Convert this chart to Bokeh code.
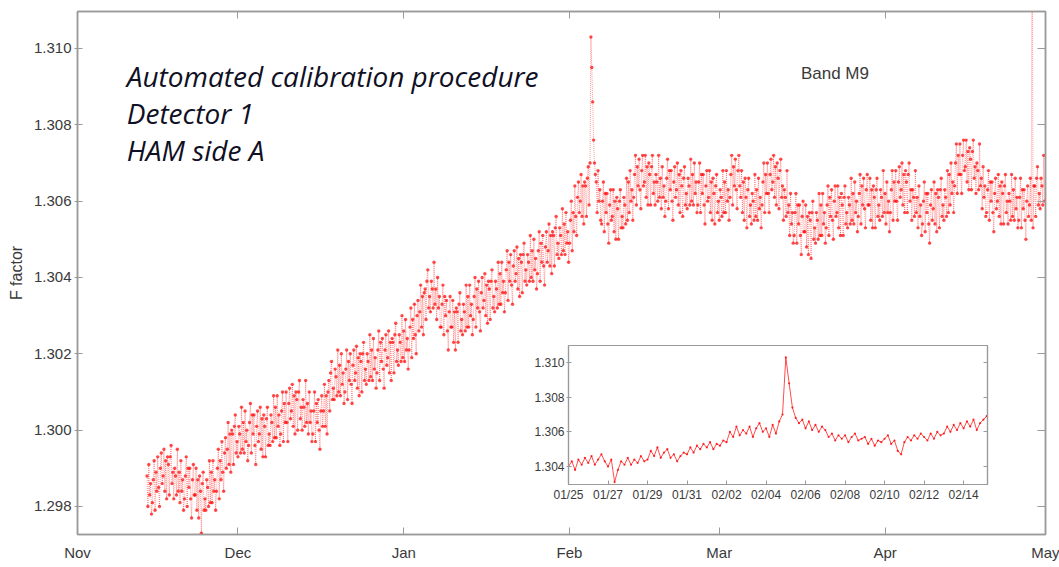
from datetime import datetime
import pandas as pd
from bokeh.plotting import figure
from bokeh.layouts import column
from bokeh.models import (Range1d, DatetimeAxis, LinearAxis, MonthsTicker, FixedTicker,
                          DatetimeTickFormatter, PrintfTickFormatter, ColumnDataSource)
from bokeh.core.properties import value
from bokeh.embed import file_html
from bokeh.resources import INLINE

# ---------------- data ----------------
main_start = "2012-11-14 00:00"
main_step_hours = 4
f_main = [
    1.2988, 1.2980, 1.2991, 1.2983, 1.2986, 1.2978,  # Nov 14
    1.2981, 1.2987, 1.2992, 1.2979, 1.2989, 1.2984,
    1.2993, 1.2985, 1.2980, 1.2990, 1.2994, 1.2986,
    1.2988, 1.2995, 1.2984, 1.2992, 1.2982, 1.2993,
    1.2991, 1.2983, 1.2993, 1.2996, 1.2986, 1.2989,
    1.2982, 1.2990, 1.2988, 1.2983, 1.2995, 1.2984,
    1.2989, 1.2981, 1.2992, 1.2984, 1.2987, 1.2979,  # Nov 20
    1.2982, 1.2988, 1.2993, 1.2980, 1.2990, 1.2985,
    1.2990, 1.2982, 1.2977, 1.2987, 1.2991, 1.2983,
    1.2983, 1.2990, 1.2979, 1.2987, 1.2977, 1.2988,
    1.2984, 1.2973, 1.2986, 1.2989, 1.2979, 1.2982,
    1.2979, 1.2987, 1.2985, 1.2980, 1.2992, 1.2981,
    1.2989, 1.2981, 1.2992, 1.2984, 1.2987, 1.2979,  # Nov 26
    1.2984, 1.2990, 1.2995, 1.2982, 1.2992, 1.2987,
    1.2997, 1.2989, 1.2984, 1.2994, 1.2998, 1.2990,
    1.2995, 1.3002, 1.2991, 1.2999, 1.2989, 1.3000,
    1.2999, 1.2991, 1.3001, 1.3004, 1.2994, 1.2997,
    1.2993, 1.3001, 1.2999, 1.2994, 1.3006, 1.2995,  # Dec 1
    1.3002, 1.2994, 1.3005, 1.2997, 1.3000, 1.2992,
    1.2996, 1.3002, 1.3007, 1.2994, 1.3004, 1.2999,
    1.3004, 1.2996, 1.2991, 1.3001, 1.3005, 1.2997,
    1.2999, 1.3006, 1.2995, 1.3003, 1.2993, 1.3004,
    1.3001, 1.2993, 1.3003, 1.3006, 1.2996, 1.2999,
    1.2996, 1.3004, 1.3002, 1.2997, 1.3009, 1.2998,  # Dec 7
    1.3006, 1.2998, 1.3009, 1.3001, 1.3004, 1.2996,
    1.2999, 1.3005, 1.3010, 1.2997, 1.3007, 1.3002,
    1.3010, 1.3002, 1.2997, 1.3007, 1.3011, 1.3003,
    1.3005, 1.3012, 1.3001, 1.3009, 1.2999, 1.3010,
    1.3008, 1.3000, 1.3010, 1.3013, 1.3003, 1.3006,
    1.3000, 1.3008, 1.3006, 1.3001, 1.3013, 1.3002,  # Dec 13
    1.3007, 1.2999, 1.3010, 1.3002, 1.3005, 1.2997,
    1.2999, 1.3005, 1.3010, 1.2997, 1.3007, 1.3002,
    1.3008, 1.3000, 1.2995, 1.3005, 1.3009, 1.3001,
    1.3005, 1.3012, 1.3001, 1.3009, 1.2999, 1.3010,
    1.3013, 1.3005, 1.3015, 1.3018, 1.3008, 1.3011,
    1.3008, 1.3016, 1.3014, 1.3009, 1.3021, 1.3010,  # Dec 19
    1.3017, 1.3009, 1.3020, 1.3012, 1.3015, 1.3007,
    1.3010, 1.3016, 1.3021, 1.3008, 1.3018, 1.3013,
    1.3020, 1.3012, 1.3007, 1.3017, 1.3021, 1.3013,
    1.3015, 1.3022, 1.3011, 1.3019, 1.3009, 1.3020,
    1.3018, 1.3010, 1.3020, 1.3023, 1.3013, 1.3016,
    1.3012, 1.3020, 1.3018, 1.3013, 1.3025, 1.3014,  # Dec 25
    1.3021, 1.3013, 1.3024, 1.3016, 1.3019, 1.3011,
    1.3015, 1.3021, 1.3026, 1.3013, 1.3023, 1.3018,
    1.3024, 1.3016, 1.3011, 1.3021, 1.3025, 1.3017,
    1.3019, 1.3026, 1.3015, 1.3023, 1.3013, 1.3024,
    1.3023, 1.3015, 1.3025, 1.3028, 1.3018, 1.3021,
    1.3017, 1.3025, 1.3023, 1.3018, 1.3030, 1.3019,  # Dec 31
    1.3026, 1.3018, 1.3029, 1.3021, 1.3024, 1.3016,  # Jan 1
    1.3021, 1.3027, 1.3032, 1.3019, 1.3029, 1.3024,
    1.3033, 1.3025, 1.3020, 1.3030, 1.3034, 1.3026,
    1.3031, 1.3038, 1.3027, 1.3035, 1.3025, 1.3036,
    1.3037, 1.3029, 1.3039, 1.3042, 1.3032, 1.3035,
    1.3031, 1.3039, 1.3037, 1.3032, 1.3044, 1.3033,  # Jan 6
    1.3037, 1.3029, 1.3040, 1.3032, 1.3035, 1.3027,
    1.3027, 1.3033, 1.3038, 1.3025, 1.3035, 1.3030,
    1.3034, 1.3026, 1.3021, 1.3031, 1.3035, 1.3027,
    1.3027, 1.3034, 1.3023, 1.3031, 1.3021, 1.3032,
    1.3031, 1.3023, 1.3033, 1.3036, 1.3026, 1.3029,
    1.3025, 1.3033, 1.3031, 1.3026, 1.3038, 1.3027,  # Jan 12
    1.3035, 1.3027, 1.3038, 1.3030, 1.3033, 1.3025,
    1.3029, 1.3035, 1.3040, 1.3027, 1.3037, 1.3032,
    1.3039, 1.3031, 1.3026, 1.3036, 1.3040, 1.3032,
    1.3034, 1.3041, 1.3030, 1.3038, 1.3028, 1.3039,
    1.3037, 1.3029, 1.3039, 1.3042, 1.3032, 1.3035,
    1.3031, 1.3039, 1.3037, 1.3032, 1.3044, 1.3033,  # Jan 18
    1.3041, 1.3033, 1.3044, 1.3036, 1.3039, 1.3031,
    1.3036, 1.3042, 1.3047, 1.3034, 1.3044, 1.3039,
    1.3046, 1.3038, 1.3033, 1.3043, 1.3047, 1.3039,
    1.3041, 1.3048, 1.3037, 1.3045, 1.3035, 1.3046,
    1.3044, 1.3036, 1.3046, 1.3049, 1.3039, 1.3042,
    1.3038, 1.3046, 1.3044, 1.3039, 1.3051, 1.3040,  # Jan 24
    1.3047, 1.3039, 1.3050, 1.3042, 1.3045, 1.3037,
    1.3041, 1.3047, 1.3052, 1.3039, 1.3049, 1.3044,
    1.3051, 1.3043, 1.3038, 1.3048, 1.3052, 1.3044,
    1.3047, 1.3054, 1.3043, 1.3051, 1.3041, 1.3052,
    1.3051, 1.3043, 1.3053, 1.3056, 1.3046, 1.3049,
    1.3045, 1.3053, 1.3051, 1.3046, 1.3058, 1.3047,  # Jan 30
    1.3054, 1.3046, 1.3057, 1.3049, 1.3052, 1.3044,
    1.3049, 1.3055, 1.3060, 1.3047, 1.3057, 1.3052,  # Feb 1
    1.3064, 1.3056, 1.3051, 1.3061, 1.3065, 1.3057,
    1.3060, 1.3067, 1.3056, 1.3064, 1.3054, 1.3065,
    1.3064, 1.3056, 1.3066, 1.3069, 1.3059, 1.3070,
    1.3103, 1.3095, 1.3086, 1.3076, 1.3070, 1.3067,  # Feb 5
    1.3065, 1.3057, 1.3068, 1.3060, 1.3063, 1.3055,
    1.3054, 1.3060, 1.3065, 1.3052, 1.3062, 1.3057,
    1.3062, 1.3054, 1.3049, 1.3059, 1.3063, 1.3055,
    1.3056, 1.3063, 1.3052, 1.3060, 1.3050, 1.3061,
    1.3058, 1.3050, 1.3060, 1.3063, 1.3053, 1.3056,
    1.3053, 1.3061, 1.3059, 1.3054, 1.3066, 1.3055,  # Feb 11
    1.3065, 1.3057, 1.3068, 1.3060, 1.3063, 1.3055,
    1.3061, 1.3067, 1.3072, 1.3059, 1.3069, 1.3064,
    1.3071, 1.3063, 1.3058, 1.3068, 1.3072, 1.3064,
    1.3065, 1.3072, 1.3061, 1.3069, 1.3059, 1.3070,
    1.3067, 1.3059, 1.3069, 1.3072, 1.3062, 1.3065,
    1.3059, 1.3067, 1.3065, 1.3060, 1.3072, 1.3061,  # Feb 17
    1.3066, 1.3058, 1.3069, 1.3061, 1.3064, 1.3056,
    1.3060, 1.3066, 1.3071, 1.3058, 1.3068, 1.3063,
    1.3068, 1.3060, 1.3055, 1.3065, 1.3069, 1.3061,
    1.3063, 1.3070, 1.3059, 1.3067, 1.3057, 1.3068,
    1.3064, 1.3056, 1.3066, 1.3069, 1.3059, 1.3062,
    1.3058, 1.3066, 1.3064, 1.3059, 1.3071, 1.3060,  # Feb 23
    1.3067, 1.3059, 1.3070, 1.3062, 1.3065, 1.3057,
    1.3059, 1.3065, 1.3070, 1.3057, 1.3067, 1.3062,
    1.3067, 1.3059, 1.3054, 1.3064, 1.3068, 1.3060,
    1.3061, 1.3068, 1.3057, 1.3065, 1.3055, 1.3066,
    1.3062, 1.3054, 1.3064, 1.3067, 1.3057, 1.3060,  # Feb 28
    1.3055, 1.3063, 1.3061, 1.3056, 1.3068, 1.3057,  # Mar 1
    1.3065, 1.3057, 1.3068, 1.3060, 1.3063, 1.3055,
    1.3061, 1.3067, 1.3072, 1.3059, 1.3069, 1.3064,
    1.3071, 1.3063, 1.3058, 1.3068, 1.3072, 1.3064,
    1.3061, 1.3068, 1.3057, 1.3065, 1.3055, 1.3066,
    1.3061, 1.3053, 1.3063, 1.3066, 1.3056, 1.3059,  # Mar 6
    1.3054, 1.3062, 1.3060, 1.3055, 1.3067, 1.3056,
    1.3063, 1.3055, 1.3066, 1.3058, 1.3061, 1.3053,
    1.3059, 1.3065, 1.3070, 1.3057, 1.3067, 1.3062,
    1.3070, 1.3062, 1.3057, 1.3067, 1.3071, 1.3063,
    1.3065, 1.3072, 1.3061, 1.3069, 1.3059, 1.3070,
    1.3066, 1.3058, 1.3068, 1.3071, 1.3061, 1.3064,  # Mar 12
    1.3055, 1.3063, 1.3061, 1.3056, 1.3068, 1.3057,
    1.3059, 1.3051, 1.3062, 1.3054, 1.3057, 1.3049,
    1.3051, 1.3057, 1.3062, 1.3049, 1.3059, 1.3054,
    1.3059, 1.3051, 1.3046, 1.3056, 1.3060, 1.3052,
    1.3052, 1.3059, 1.3048, 1.3056, 1.3046, 1.3057,
    1.3055, 1.3045, 1.3057, 1.3060, 1.3050, 1.3053,  # Mar 18
    1.3049, 1.3057, 1.3055, 1.3050, 1.3062, 1.3051,
    1.3059, 1.3051, 1.3062, 1.3054, 1.3057, 1.3049,
    1.3053, 1.3059, 1.3064, 1.3051, 1.3061, 1.3056,
    1.3063, 1.3055, 1.3050, 1.3060, 1.3064, 1.3056,
    1.3057, 1.3064, 1.3053, 1.3061, 1.3051, 1.3062,
    1.3059, 1.3051, 1.3061, 1.3064, 1.3054, 1.3057,  # Mar 24
    1.3053, 1.3061, 1.3059, 1.3054, 1.3066, 1.3055,
    1.3062, 1.3054, 1.3065, 1.3057, 1.3060, 1.3052,
    1.3056, 1.3062, 1.3067, 1.3054, 1.3064, 1.3059,
    1.3066, 1.3058, 1.3053, 1.3063, 1.3067, 1.3059,
    1.3059, 1.3066, 1.3055, 1.3063, 1.3053, 1.3064,
    1.3061, 1.3053, 1.3063, 1.3066, 1.3056, 1.3059,  # Mar 30
    1.3055, 1.3063, 1.3061, 1.3056, 1.3068, 1.3057,
    1.3062, 1.3054, 1.3065, 1.3057, 1.3060, 1.3052,  # Apr 1
    1.3057, 1.3063, 1.3068, 1.3055, 1.3065, 1.3060,
    1.3068, 1.3060, 1.3055, 1.3065, 1.3069, 1.3061,
    1.3063, 1.3070, 1.3059, 1.3067, 1.3057, 1.3068,
    1.3065, 1.3057, 1.3067, 1.3070, 1.3060, 1.3063,
    1.3055, 1.3063, 1.3061, 1.3056, 1.3068, 1.3057,  # Apr 6
    1.3061, 1.3053, 1.3064, 1.3056, 1.3059, 1.3051,
    1.3054, 1.3060, 1.3065, 1.3052, 1.3062, 1.3057,
    1.3062, 1.3054, 1.3049, 1.3059, 1.3063, 1.3055,
    1.3058, 1.3065, 1.3054, 1.3062, 1.3052, 1.3063,
    1.3061, 1.3053, 1.3063, 1.3066, 1.3056, 1.3059,
    1.3055, 1.3063, 1.3061, 1.3056, 1.3068, 1.3057,  # Apr 12
    1.3067, 1.3059, 1.3070, 1.3062, 1.3065, 1.3057,
    1.3064, 1.3070, 1.3075, 1.3062, 1.3072, 1.3067,
    1.3075, 1.3067, 1.3062, 1.3072, 1.3076, 1.3068,
    1.3069, 1.3076, 1.3065, 1.3073, 1.3063, 1.3074,
    1.3071, 1.3063, 1.3073, 1.3076, 1.3066, 1.3069,
    1.3062, 1.3070, 1.3068, 1.3063, 1.3075, 1.3064,  # Apr 18
    1.3066, 1.3058, 1.3069, 1.3061, 1.3064, 1.3056,
    1.3057, 1.3063, 1.3068, 1.3055, 1.3065, 1.3060,
    1.3065, 1.3057, 1.3052, 1.3062, 1.3066, 1.3058,
    1.3060, 1.3067, 1.3056, 1.3064, 1.3054, 1.3065,
    1.3062, 1.3054, 1.3064, 1.3067, 1.3057, 1.3060,
    1.3054, 1.3062, 1.3060, 1.3055, 1.3067, 1.3056,  # Apr 24
    1.3063, 1.3055, 1.3066, 1.3058, 1.3061, 1.3053,
    1.3055, 1.3061, 1.3066, 1.3053, 1.3063, 1.3058,
    1.3063, 1.3055, 1.3050, 1.3060, 1.3064, 1.3056,
    1.3059, 1.3066, 1.3055, 1.3150, 1.3053, 1.3064,  # Apr 28
    1.3064, 1.3056, 1.3066, 1.3069, 1.3059, 1.3062,
    1.3058, 1.3066, 1.3064, 1.3059, 1.3072, 1.3060,  # Apr 30
]

inset_start = "2013-01-25 00:00"
inset_step_hours = 4
f_inset = [
    1.3040, 1.3043, 1.3038, 1.3044, 1.3041, 1.3045,  # 01/25
    1.3042, 1.3046, 1.3041, 1.3044, 1.3047, 1.3043,  # 01/26
    1.3040, 1.3044, 1.3031, 1.3038, 1.3043, 1.3041,  # 01/27
    1.3045, 1.3041, 1.3044, 1.3042, 1.3046, 1.3043,  # 01/28
    1.3044, 1.3049, 1.3046, 1.3051, 1.3045, 1.3048,  # 01/29
    1.3050, 1.3045, 1.3047, 1.3043, 1.3046, 1.3048,  # 01/30
    1.3047, 1.3051, 1.3048, 1.3052, 1.3050, 1.3053,  # 01/31
    1.3051, 1.3054, 1.3050, 1.3053, 1.3052, 1.3055,  # 02/01
    1.3054, 1.3060, 1.3057, 1.3063, 1.3058, 1.3061,  # 02/02
    1.3059, 1.3063, 1.3057, 1.3062, 1.3065, 1.3060,  # 02/03
    1.3062, 1.3057, 1.3064, 1.3059, 1.3066, 1.3070,  # 02/04
    1.3103, 1.3088, 1.3074, 1.3068, 1.3065, 1.3067,  # 02/05
    1.3062, 1.3066, 1.3061, 1.3064, 1.3060, 1.3063,  # 02/06
    1.3061, 1.3057, 1.3059, 1.3055, 1.3058, 1.3056,  # 02/07
    1.3058, 1.3054, 1.3057, 1.3059, 1.3055, 1.3056,  # 02/08
    1.3057, 1.3053, 1.3056, 1.3052, 1.3055, 1.3054,  # 02/09
    1.3056, 1.3058, 1.3053, 1.3055, 1.3049, 1.3047,  # 02/10
    1.3054, 1.3057, 1.3055, 1.3058, 1.3056, 1.3059,  # 02/11
    1.3057, 1.3055, 1.3059, 1.3056, 1.3060, 1.3058,  # 02/12
    1.3059, 1.3063, 1.3060, 1.3064, 1.3061, 1.3065,  # 02/13
    1.3062, 1.3066, 1.3063, 1.3067, 1.3061, 1.3065,  # 02/14
    1.3067, 1.3069,                                  # 02/15
]

main_yticks = [1.298, 1.300, 1.302, 1.304, 1.306, 1.308, 1.310]
inset_yticks = [1.304, 1.306, 1.308, 1.310]
inset_xticks = ["2013-01-25", "2013-01-27", "2013-01-29", "2013-01-31", "2013-02-02", "2013-02-04",
                "2013-02-06", "2013-02-08", "2013-02-10", "2013-02-12", "2013-02-14"]
note_lines = ["Automated calibration procedure", "Detector 1", "HAM side A"]
band_label = "Band M9"
y_label = "F factor"

# ---------------- build ----------------
t_main = pd.date_range(main_start, periods=len(f_main), freq=f"{main_step_hours}h")
t_inset = pd.date_range(inset_start, periods=len(f_inset), freq=f"{inset_step_hours}h")

GRAY = "#9a9a9a"
TXT = "#3a3a3a"
SANS = "Liberation Sans"

p = figure(width=1059, height=567, x_axis_type="datetime",
           x_range=Range1d(datetime(2012, 11, 1), datetime(2013, 5, 1)),
           y_range=Range1d(1.297266, 1.310969),
           output_backend="svg", toolbar_location=None,
           min_border_left=77, min_border_right=14, min_border_top=11, min_border_bottom=33)
p.xgrid.visible = False
p.ygrid.visible = False
p.outline_line_color = GRAY
p.outline_line_width = 1.5

src = ColumnDataSource(dict(t=t_main, f=f_main))
p.line("t", "f", source=src, line_color="#ff0000", line_alpha=0.4, line_width=1, line_dash="1 1")
p.scatter("t", "f", source=src, size=3.4, fill_color="#ff0000", fill_alpha=0.7, line_color=None)

xa = p.xaxis[0]
xa.ticker = MonthsTicker(months=list(range(12)))
xa.formatter = DatetimeTickFormatter(months="%b", days="%b")
ya = p.yaxis[0]
ya.ticker = FixedTicker(ticks=main_yticks)
ya.formatter = PrintfTickFormatter(format="%.3f")
ya.axis_label = y_label
ya.axis_label_text_font = SANS
ya.axis_label_text_font_style = "normal"
ya.axis_label_text_font_size = "16px"
ya.axis_label_text_color = TXT
ya.axis_label_standoff = 6

for ax in (xa, ya):
    ax.axis_line_color = GRAY
    ax.axis_line_width = 1.5
    ax.major_tick_line_color = GRAY
    ax.minor_tick_line_color = None
    ax.major_label_text_font = SANS
    ax.major_label_text_font_size = "15px"
    ax.major_label_text_color = TXT
xa.major_tick_in = 7
xa.major_tick_out = 0
xa.major_label_standoff = 9
ya.major_tick_in = 5
ya.major_tick_out = 3
ya.major_label_standoff = 3

top_ax = DatetimeAxis(ticker=MonthsTicker(months=list(range(12))),
                      major_label_text_color=None, major_label_text_font_size="1px",
                      major_label_standoff=0, major_tick_in=7, major_tick_out=0,
                      minor_tick_line_color=None, axis_line_color=GRAY, axis_line_width=1.5,
                      major_tick_line_color=GRAY)
p.add_layout(top_ax, "above")
right_ax = LinearAxis(ticker=FixedTicker(ticks=main_yticks),
                      major_label_text_color=None, major_label_text_font_size="1px",
                      major_label_standoff=0, major_tick_in=8, major_tick_out=0,
                      minor_tick_line_color=None, axis_line_color=GRAY, axis_line_width=1.5,
                      major_tick_line_color=GRAY)
p.add_layout(right_ax, "right")

note_x = [pd.Timestamp("2012-11-10 05:00")] * 3
note_y = [1.30927, 1.30830, 1.30733]
p.text(x=note_x, y=note_y, text=note_lines, text_font=value("Open Sans"),
       text_font_style="italic", text_font_size="28px", text_color="#101024",
       text_baseline="middle", text_align="left")
p.text(x=[pd.Timestamp("2013-03-22 15:00")], y=[1.30935], text=[band_label],
       text_font=value(SANS), text_font_size="17px", text_color=TXT,
       text_baseline="middle", text_align="center")

# ---------------- inset ----------------
# plots stacked in a column share their side borders, so the inset's
# left/right borders equal the main plot's (77 / 14 px)
ins = figure(width=510, height=166, x_axis_type="datetime",
             x_range=Range1d(datetime(2013, 1, 25), datetime(2013, 2, 15, 5)),
             y_range=Range1d(1.30296, 1.31098),
             output_backend="svg", toolbar_location=None,
             min_border_left=77, min_border_right=14, min_border_top=7, min_border_bottom=20)
ins.margin = (-229, 0, 0, 491)
ins.xgrid.visible = False
ins.ygrid.visible = False
ins.outline_line_color = GRAY
ins.outline_line_width = 1.2
isrc = ColumnDataSource(dict(t=t_inset, f=f_inset))
ins.line("t", "f", source=isrc, line_color="#ff0000", line_alpha=0.7, line_width=1)
ins.scatter("t", "f", source=isrc, size=2.2, fill_color="#ff0000", fill_alpha=0.8, line_color=None)

ixa = ins.xaxis[0]
ixa.ticker = FixedTicker(ticks=(pd.to_datetime(inset_xticks).asi8 // 10**6).tolist())
ixa.formatter = DatetimeTickFormatter(days="%m/%d", hours="%m/%d", months="%m/%d")
iya = ins.yaxis[0]
iya.ticker = FixedTicker(ticks=inset_yticks)
iya.formatter = PrintfTickFormatter(format="%.3f")
for ax in (ixa, iya):
    ax.axis_line_color = GRAY
    ax.axis_line_width = 1.2
    ax.major_tick_line_color = GRAY
    ax.minor_tick_line_color = None
    ax.major_label_text_font = SANS
    ax.major_label_text_font_size = "12px"
    ax.major_label_text_color = TXT
ixa.major_tick_in = 4
ixa.major_tick_out = 0
ixa.major_label_standoff = 3
iya.major_tick_in = 3
iya.major_tick_out = 2
iya.major_label_standoff = 2
iright = LinearAxis(ticker=FixedTicker(ticks=inset_yticks),
                    major_label_text_color=None, major_label_text_font_size="1px",
                    major_label_standoff=0, major_tick_in=4, major_tick_out=0,
                    minor_tick_line_color=None, axis_line_color=GRAY, axis_line_width=1.2,
                    major_tick_line_color=GRAY)
ins.add_layout(iright, "right")

layout = column(p, ins)
open("out.html", "w").write(file_html(layout, INLINE))
